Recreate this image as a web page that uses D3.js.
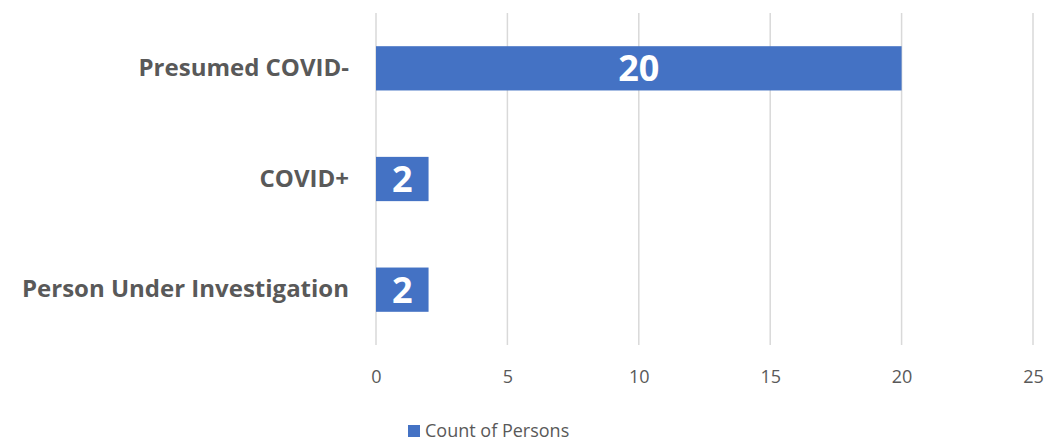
<!DOCTYPE html>
<html>
<head>
<meta charset="utf-8">
<script src="https://cdn.jsdelivr.net/npm/d3@7"></script>
<style>
  body { margin: 0; background: #fff; }
  text { font-family: "Open Sans", "Noto Sans", sans-serif; }
</style>
</head>
<body>
<div id="chart"></div>
<script>
// categories, top to bottom
var categories = ["Presumed COVID-", "COVID+", "Person Under Investigation"];
// count of persons per category
var counts = [20, 2, 2];
// x axis ticks
var ticks = [0, 5, 10, 15, 20, 25];
var seriesName = "Count of Persons";

var W = 1062, H = 444;
var margin = {top: 13, right: 29, bottom: 99, left: 376};

var svg = d3.select("#chart").append("svg")
    .attr("width", W)
    .attr("height", H);

var xScale = d3.scaleLinear()
    .domain([0, 25])
    .range([margin.left, W - margin.right]);

var yScale = d3.scaleBand()
    .domain(categories)
    .range([margin.top, H - margin.bottom])
    .paddingInner(0.6)
    .paddingOuter(0.3);

// vertical gridlines
svg.append("g").selectAll("line")
    .data(ticks)
    .enter()
    .append("line")
    .attr("x1", function(d) { return xScale(d); })
    .attr("x2", function(d) { return xScale(d); })
    .attr("y1", margin.top)
    .attr("y2", H - margin.bottom)
    .attr("stroke", "#d9d9d9")
    .attr("stroke-width", 1.5);

// x axis labels
var xAxis = d3.axisBottom(xScale).tickValues(ticks).tickSize(0).tickPadding(0);
var gx = svg.append("g")
    .attr("transform", "translate(0," + (H - margin.bottom + 25) + ")")
    .call(xAxis);
gx.select(".domain").remove();
gx.selectAll("text")
    .attr("fill", "#595959")
    .style("font-size", "18px")
    .style("font-family", "'Open Sans', sans-serif");

// category labels
var yAxis = d3.axisLeft(yScale).tickSize(0).tickPadding(27);
var gy = svg.append("g")
    .attr("transform", "translate(" + margin.left + ",0)")
    .call(yAxis);
gy.select(".domain").remove();
gy.selectAll("text")
    .attr("fill", "#595959")
    .style("font-size", "24px")
    .style("font-weight", "bold")
    .style("font-family", "'Open Sans', sans-serif");

// bars
var data = categories.map(function(c, i) { return {cat: c, value: counts[i]}; });
svg.selectAll(".bar")
    .data(data)
    .enter()
    .append("rect")
    .attr("class", "bar")
    .attr("x", xScale(0))
    .attr("y", function(d) { return yScale(d.cat); })
    .attr("width", function(d) { return xScale(d.value) - xScale(0); })
    .attr("height", yScale.bandwidth())
    .attr("fill", "#4472c4");

// value labels inside bars
svg.selectAll(".label")
    .data(data)
    .enter()
    .append("text")
    .attr("class", "label")
    .attr("x", function(d) { return (xScale(0) + xScale(d.value)) / 2; })
    .attr("y", function(d) { return yScale(d.cat) + yScale.bandwidth() / 2; })
    .attr("dy", "0.36em")
    .attr("text-anchor", "middle")
    .attr("fill", "#fff")
    .style("font-size", "36px")
    .style("font-weight", "bold")
    .text(function(d) { return d.value; });

// legend
var legend = svg.append("g").attr("transform", "translate(408,425)");
legend.append("rect")
    .attr("width", 12)
    .attr("height", 12)
    .attr("fill", "#4472c4");
legend.append("text")
    .attr("x", 17)
    .attr("y", 6)
    .attr("dy", "0.36em")
    .attr("fill", "#595959")
    .style("font-size", "18px")
    .text(seriesName);
</script>
</body>
</html>
